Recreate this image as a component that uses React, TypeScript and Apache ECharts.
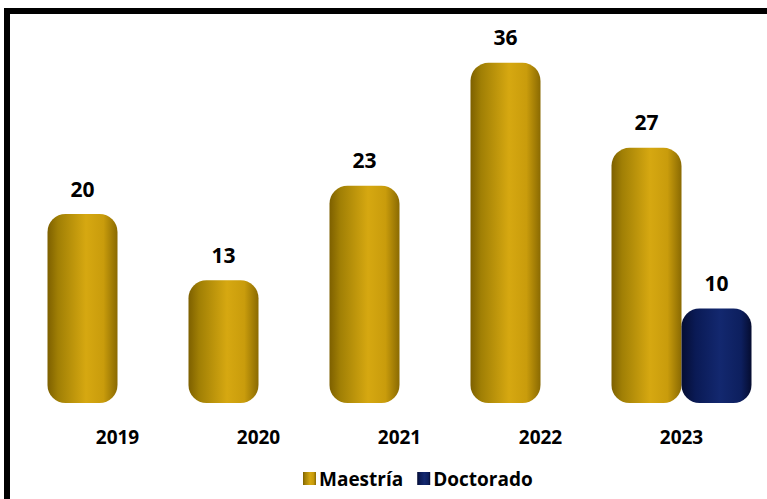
import React, { useEffect, useRef } from "react";
import * as echarts from "echarts";

const years = ["2019", "2020", "2021", "2022", "2023"];
const maestria = [20, 13, 23, 36, 27];
const doctorado = [null, null, null, null, 10];

const gold = new echarts.graphic.LinearGradient(0, 0, 1, 0, [
  { offset: 0, color: "#7d6000" },
  { offset: 0.15, color: "#a07f05" },
  { offset: 0.55, color: "#d6a811" },
  { offset: 0.8, color: "#c99c0c" },
  { offset: 1, color: "#8a6a02" },
]);
const navy = new echarts.graphic.LinearGradient(0, 0, 1, 0, [
  { offset: 0, color: "#050d33" },
  { offset: 0.2, color: "#0a1a55" },
  { offset: 0.55, color: "#13286f" },
  { offset: 0.85, color: "#0d1f5e" },
  { offset: 1, color: "#050c30" },
]);

export default function App() {
  const ref = useRef<HTMLDivElement>(null);
  useEffect(() => {
    const chart = echarts.init(ref.current!, null, { renderer: "svg" });
    const labelStyle = {
      show: true,
      position: "top" as const,
      distance: 15,
      fontFamily: "Open Sans",
      fontWeight: "bold" as const,
      fontSize: 21,
      color: "#000",
    };
    chart.setOption({
      animation: false,
      backgroundColor: "#fff",
      grid: { left: 47, right: 15, top: 25, bottom: 96 },
      xAxis: {
        type: "category",
        data: years,
        axisLine: { show: false },
        axisTick: { show: false },
        axisLabel: {
          margin: 24,
          fontFamily: "Open Sans",
          fontWeight: "bold",
          fontSize: 19,
          color: "#000",
        },
      },
      yAxis: {
        type: "value",
        min: 0,
        max: 40,
        show: false,
        splitLine: { show: false },
      },
      legend: {
        bottom: 6,
        left: 298,
        itemWidth: 13,
        itemHeight: 13,
        itemGap: 14,
        icon: "rect",
        textStyle: {
          fontFamily: "Open Sans",
          fontWeight: "bold",
          fontSize: 19,
          color: "#000",
          padding: [0, 0, 0, -2],
        },
        data: ["Maestría", "Doctorado"],
      },
      graphic: [
        { type: "rect", shape: { x: 4, y: 8, width: 6, height: 500 }, style: { fill: "#000" } },
        { type: "rect", shape: { x: 4, y: 8, width: 780, height: 6 }, style: { fill: "#000" } },
      ],
      series: [
        {
          name: "Maestría",
          type: "bar",
          data: maestria,
          barWidth: 70,
          barGap: "0%",
          barCategoryGap: "0%",
          itemStyle: { color: gold, borderRadius: 18 },
          label: labelStyle,
        },
        {
          name: "Doctorado",
          type: "bar",
          data: doctorado,
          barWidth: 70,
          itemStyle: { color: navy, borderRadius: 18 },
          label: labelStyle,
        },
      ],
    });
    return () => chart.dispose();
  }, []);
  return <div ref={ref} style={{ width: 767, height: 499, position: "absolute", left: 0, top: 0 }} />;
}
